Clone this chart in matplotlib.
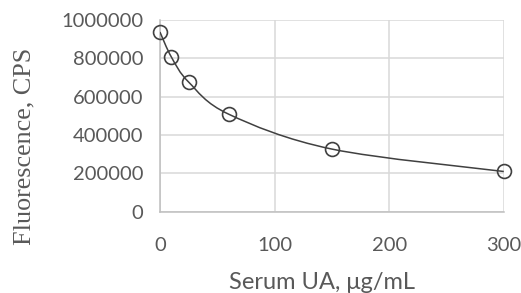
import matplotlib
matplotlib.use('Agg')
import matplotlib.pyplot as plt
from matplotlib.path import Path
from matplotlib.patches import PathPatch

# serum uric acid (ug/mL) vs fluorescence (CPS)
serum_ua = [0, 10, 25, 60, 150, 300]
fluorescence = [937000, 806000, 676000, 508000, 326000, 209000]
x_ticks = [0, 100, 200, 300]
y_ticks = [0, 200000, 400000, 600000, 800000, 1000000]

dark = '#404040'
grid = '#d9d9d9'
text_col = '#595959'

fig = plt.figure(figsize=(5.21, 2.93), dpi=100)
ax = fig.add_axes([0.307, 0.278, 0.66, 0.654])

''' smoothed line like excel: bezier segments through the points '''
pts = list(zip(serum_ua, fluorescence))
verts = [pts[0]]
codes = [Path.MOVETO]
n = len(pts)
for i in range(n - 1):
    p0 = pts[max(i - 1, 0)]
    p1 = pts[i]
    p2 = pts[i + 1]
    p3 = pts[min(i + 2, n - 1)]
    c1 = (p1[0] + (p2[0] - p0[0]) / 6, p1[1] + (p2[1] - p0[1]) / 6)
    c2 = (p2[0] - (p3[0] - p1[0]) / 6, p2[1] - (p3[1] - p1[1]) / 6)
    verts += [c1, c2, p2]
    codes += [Path.CURVE4] * 3
ax.add_patch(PathPatch(Path(verts, codes), facecolor='none', edgecolor=dark, lw=1.1, zorder=3))

ax.plot(serum_ua, fluorescence, linestyle='none', marker='o', markersize=10,
        markerfacecolor='none', markeredgecolor=dark, markeredgewidth=1.2,
        clip_on=False, zorder=4)

ax.set_xlim(0, 300)
ax.set_ylim(0, 1000000)
ax.set_xticks(x_ticks)
ax.set_yticks(y_ticks)
ax.set_xticklabels([str(t) for t in x_ticks], family='Lato', fontsize=14.5, color=text_col)
ax.set_yticklabels([str(t) for t in y_ticks], family='Lato', fontsize=14.5, color=text_col)
ax.tick_params(length=0)
ax.tick_params(axis='x', pad=18.5)
ax.tick_params(axis='y', pad=12.2)
ax.grid(True, color=grid, lw=1.1)
ax.set_axisbelow(True)
for s in ['top', 'right']:
    ax.spines[s].set_visible(False)
for s in ['left', 'bottom']:
    ax.spines[s].set_color('#bfbfbf')
    ax.spines[s].set_linewidth(1.1)

fig.text(322 / 521, 1 - 289 / 293, 'Serum UA, μg/mL', family='Lato', fontsize=17,
         color=text_col, ha='center', va='baseline')
fig.text(24 / 521, 1 - 146 / 293, 'Fluorescence, CPS', family='Liberation Serif',
         fontsize=18.8, color=text_col, rotation=90, ha='center', va='center')

fig.savefig('out.png', dpi=100)
